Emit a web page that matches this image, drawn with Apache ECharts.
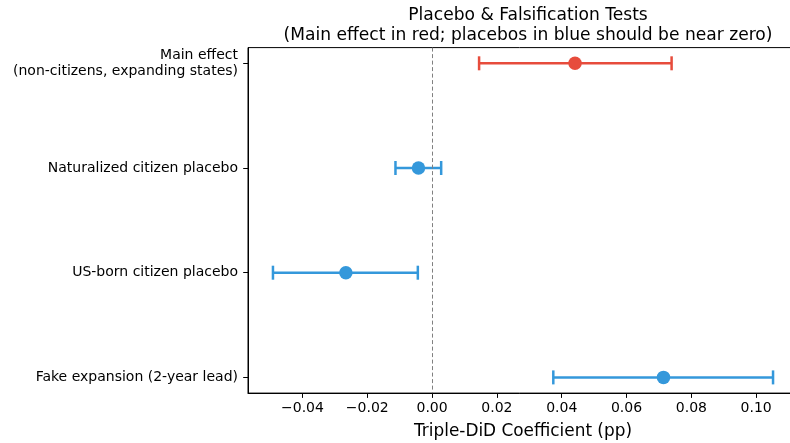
<!DOCTYPE html>
<html><head><meta charset="utf-8">
<script src="https://cdn.jsdelivr.net/npm/echarts@6/dist/echarts.min.js"></script>
<style>html,body{margin:0;padding:0;background:#fff}#c{width:790px;height:443px}</style>
</head><body><div id="c"></div>
<script>
const categories = ['Main effect\n(non-citizens, expanding states)', 'Naturalized citizen placebo', 'US-born citizen placebo', 'Fake expansion (2-year lead)'];
const estimates = [0.0441, -0.0042, -0.0266, 0.0714];
const ciLow = [0.0145, -0.0113, -0.0491, 0.0374];
const ciHigh = [0.0739, 0.0028, -0.0044, 0.1052];
const isMain = [true, false, false, false];
const xTicks = [-0.04, -0.02, 0.00, 0.02, 0.04, 0.06, 0.08, 0.10];

const RED = '#e74c3c', BLUE = '#3498db';
const FONT = 'DejaVu Sans';
const chart = echarts.init(document.getElementById('c'), null, {renderer: 'canvas'});

const ebData = categories.map((c, i) => [i, ciLow[i], ciHigh[i], isMain[i] ? 1 : 0]);
const ptData = categories.map((c, i) => ({value: [estimates[i], i], itemStyle: {color: isMain[i] ? RED : BLUE, opacity: 1}}));

chart.setOption({
  animation: false,
  textStyle: {fontFamily: FONT},
  title: {
    text: 'Placebo & Falsification Tests\n(Main effect in red; placebos in blue should be near zero)',
    left: 523, top: 1, textAlign: 'center',
    textStyle: {fontFamily: FONT, fontSize: 17.1, fontWeight: 'normal', color: '#000', lineHeight: 19.5}
  },
  grid: {left: 248, top: 47.6, width: 550, height: 345.5, show: true, borderColor: '#000', borderWidth: 1,
    backgroundColor: 'transparent', containLabel: false, outerBoundsMode: 'none'},
  xAxis: {
    type: 'value', min: -0.0568, max: 0.1129,
    name: 'Triple-DiD Coefficient (pp)', nameLocation: 'middle', nameGap: 30,
    nameTextStyle: {fontFamily: FONT, fontSize: 16.9, color: '#000'},
    axisLine: {show: true, onZero: false, lineStyle: {color: '#000', width: 1}},
    axisTick: {show: true, customValues: xTicks, length: 4.8, lineStyle: {color: '#000', width: 1}},
    axisLabel: {customValues: xTicks, fontFamily: FONT, fontSize: 14, color: '#000', margin: 8,
      formatter: v => v.toFixed(2).replace('-', '\u2212')},
    splitLine: {show: false}
  },
  yAxis: {
    type: 'value', min: -0.15, max: 3.15, inverse: true,
    axisLine: {show: true, onZero: false, lineStyle: {color: '#000', width: 1}},
    axisTick: {show: true, customValues: [0, 1, 2, 3], length: 4.8, lineStyle: {color: '#000', width: 1}},
    axisLabel: {customValues: [0, 1, 2, 3], fontFamily: FONT, fontSize: 14, color: '#000', margin: 10, lineHeight: 16, align: 'right',
      formatter: v => categories[Math.round(v)]},
    splitLine: {show: false}
  },
  series: [
    {
      type: 'custom',
      data: ebData,
      encode: {x: [1, 2], y: 0},
      renderItem: (params, api) => {
        const y = api.value(0), lo = api.value(1), hi = api.value(2);
        const color = api.value(3) ? RED : BLUE;
        const p1 = api.coord([lo, y]), p2 = api.coord([hi, y]);
        const cap = 7;
        const style = {stroke: color, lineWidth: 2.5};
        return {type: 'group', children: [
          {type: 'line', shape: {x1: p1[0], y1: p1[1], x2: p2[0], y2: p2[1]}, style},
          {type: 'line', shape: {x1: p1[0], y1: p1[1] - cap, x2: p1[0], y2: p1[1] + cap}, style},
          {type: 'line', shape: {x1: p2[0], y1: p2[1] - cap, x2: p2[0], y2: p2[1] + cap}, style}
        ]};
      },
      z: 2
    },
    {
      type: 'scatter', data: ptData, symbolSize: 13.5, z: 3,
      markLine: {
        silent: true, symbol: 'none', label: {show: false},
        lineStyle: {color: '#808080', type: [4, 2.5], width: 1, opacity: 1},
        data: [{xAxis: 0}]
      }
    }
  ]
});
</script></body></html>
